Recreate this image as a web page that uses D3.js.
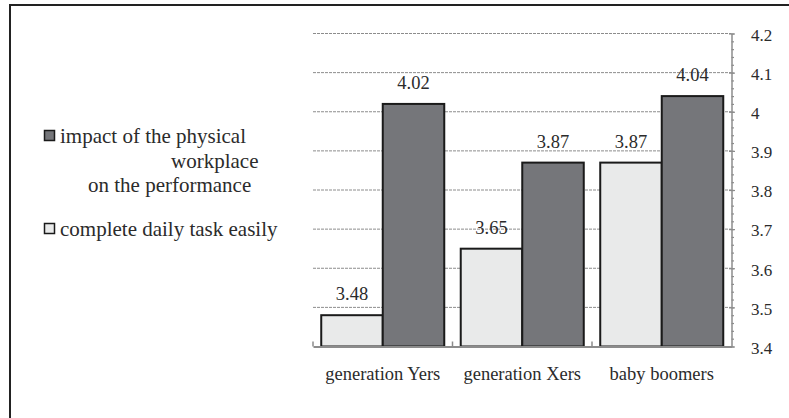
<!DOCTYPE html>
<html>
<head>
<meta charset="utf-8">
<script src="https://cdn.jsdelivr.net/npm/d3@7"></script>
<style>
body { margin: 0; background: #fff; }
text { font-family: "Liberation Serif", "Times New Roman", serif; fill: #2b2b2b; }
</style>
</head>
<body>
<svg width="789" height="418"></svg>
<script>
var categories = ["generation Yers", "generation Xers", "baby boomers"];
var seriesNames = ["complete daily task easily", "impact of the physical workplace on the performance"];
var dailyTask = [3.48, 3.65, 3.87];
var physicalImpact = [4.02, 3.87, 4.04];
var yTicks = [3.4, 3.5, 3.6, 3.7, 3.8, 3.9, 4, 4.1, 4.2];

var svg = d3.select("svg");

// outer frame
svg.append("rect")
  .attr("x", 10).attr("y", 5)
  .attr("width", 800).attr("height", 420)
  .attr("fill", "none")
  .attr("stroke", "#222")
  .attr("stroke-width", 2);

var plotLeft = 313, plotRight = 731.5, plotTop = 33.5, plotBottom = 346.5;

var y = d3.scaleLinear().domain([3.4, 4.2]).range([plotBottom, plotTop]);
var x0 = d3.scaleBand().domain(categories).range([plotLeft, plotRight]).paddingInner(0).paddingOuter(0);
var x1 = d3.scaleBand().domain(seriesNames).range([0, x0.bandwidth()]).paddingInner(0).paddingOuter(0.134);

var data = categories.map(function(c, i) {
  return { cat: c, vals: [
    { key: seriesNames[0], v: dailyTask[i], fill: "#e9eaea" },
    { key: seriesNames[1], v: physicalImpact[i], fill: "#75767a" }
  ]};
});

// gridlines
svg.append("g")
  .selectAll("line")
  .data(yTicks.slice(1))
  .enter().append("line")
  .attr("x1", plotLeft).attr("x2", plotRight)
  .attr("y1", function(d) { return y(d); })
  .attr("y2", function(d) { return y(d); })
  .attr("stroke", "#8c8c8c")
  .attr("stroke-width", 1)
  .attr("stroke-dasharray", "3,1");

// minor ticks on the right axis
svg.append("g")
  .attr("transform", "translate(" + plotRight + ",0)")
  .call(d3.axisRight(y).ticks(40).tickSize(2.5).tickFormat(""))
  .call(function(g) {
    g.select(".domain").remove();
    g.selectAll("line").attr("stroke", "#8c8c8c").attr("stroke-width", 1.2);
  });

// major ticks + labels
svg.append("g")
  .attr("transform", "translate(" + plotRight + ",0)")
  .call(d3.axisRight(y).tickValues(yTicks).tickSize(3.5).tickSizeOuter(0).tickPadding(16)
    .tickFormat(function(d) { return d3.format("")(d); }))
  .call(function(g) {
    g.select(".domain").attr("stroke", "#8c8c8c").attr("stroke-width", 1.5);
    g.selectAll(".tick line").attr("stroke", "#8c8c8c").attr("stroke-width", 1.2).attr("x1", -2.5);
    g.selectAll("text")
      .attr("font-family", "Liberation Serif")
      .attr("font-size", 17)
      .attr("fill", "#2b2b2b")
      .attr("dy", "0.4em");
  });

// bars
var groups = svg.append("g")
  .selectAll("g")
  .data(data)
  .enter().append("g")
  .attr("transform", function(d) { return "translate(" + x0(d.cat) + ",0)"; });

groups.selectAll("rect")
  .data(function(d) { return d.vals; })
  .enter().append("rect")
  .attr("x", function(d) { return x1(d.key); })
  .attr("y", function(d) { return y(d.v); })
  .attr("width", x1.bandwidth())
  .attr("height", function(d) { return plotBottom - y(d.v); })
  .attr("fill", function(d) { return d.fill; })
  .attr("stroke", "#1a1a1a")
  .attr("stroke-width", 2);

groups.selectAll("text")
  .data(function(d) { return d.vals; })
  .enter().append("text")
  .attr("x", function(d) { return x1(d.key) + x1.bandwidth() / 2; })
  .attr("y", function(d) { return y(d.v) - 15; })
  .attr("text-anchor", "middle")
  .attr("font-size", 18.5)
  .text(function(d) { return d3.format(".2f")(d.v); });

// bottom axis
svg.append("g")
  .attr("transform", "translate(0," + plotBottom + ")")
  .call(d3.axisBottom(x0).tickSize(0).tickPadding(30))
  .call(function(g) {
    g.select(".domain").attr("stroke", "#8c8c8c").attr("stroke-width", 2);
    g.selectAll("text")
      .attr("font-family", "Liberation Serif")
      .attr("font-size", 18.5)
      .attr("fill", "#2b2b2b")
      .attr("dy", "0.2em");
  });

svg.append("g")
  .selectAll("line")
  .data([plotLeft, plotLeft + x0.step(), plotLeft + 2 * x0.step()])
  .enter().append("line")
  .attr("x1", function(d) { return d; }).attr("x2", function(d) { return d; })
  .attr("y1", plotBottom - 5).attr("y2", plotBottom)
  .attr("stroke", "#8c8c8c")
  .attr("stroke-width", 1.5);

// legend
var legend = svg.append("g");
legend.append("rect")
  .attr("x", 44.5).attr("y", 130.5).attr("width", 10).attr("height", 10)
  .attr("fill", "#75767a").attr("stroke", "#1a1a1a").attr("stroke-width", 1.5);
legend.append("rect")
  .attr("x", 44.5).attr("y", 223.5).attr("width", 10).attr("height", 10)
  .attr("fill", "#e9eaea").attr("stroke", "#1a1a1a").attr("stroke-width", 1.5);

var legendLines = [
  { t: "impact of the physical", x: 60, y: 143 },
  { t: "workplace", x: 171, y: 167.5 },
  { t: "on the performance", x: 88, y: 192 },
  { t: seriesNames[0], x: 60, y: 235.5 }
];
legend.selectAll("text")
  .data(legendLines)
  .enter().append("text")
  .attr("x", function(d) { return d.x; })
  .attr("y", function(d) { return d.y; })
  .attr("font-size", 21)
  .text(function(d) { return d.t; });
</script>
</body>
</html>
